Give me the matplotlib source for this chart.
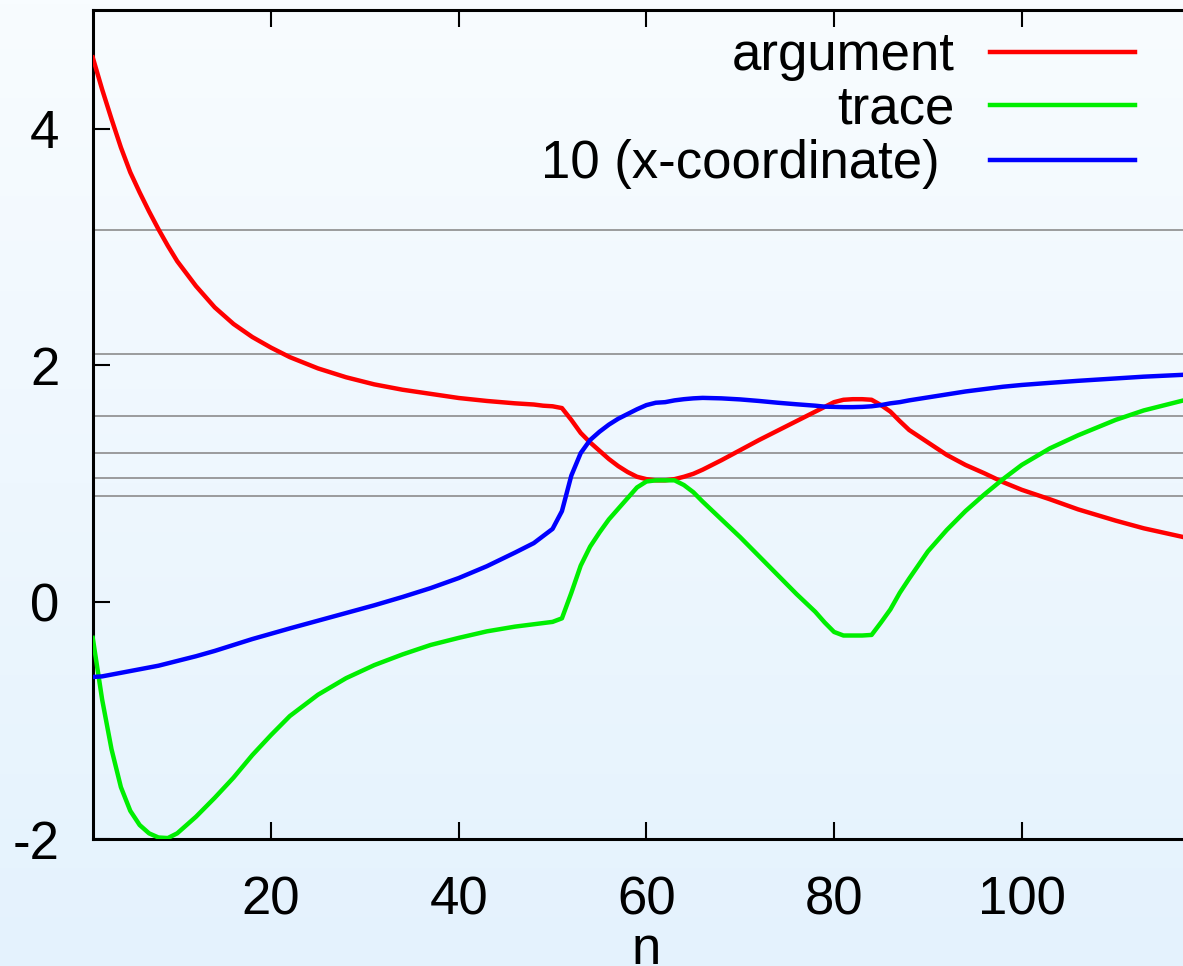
import numpy as np
import matplotlib
matplotlib.use("Agg")
import matplotlib.pyplot as plt

plt.rcParams['font.family'] = ['Liberation Sans', 'DejaVu Sans']
plt.rcParams['axes.unicode_minus'] = False

# sample index n
n = [1, 2, 3, 4, 5, 6, 7, 8, 9, 10, 12, 14, 16, 18, 20, 22, 25, 28, 31, 34,
     37, 40, 43, 46, 48, 49, 50, 51, 52, 53, 54, 55, 56, 57, 58, 59, 60, 61,
     62, 63, 64, 65, 66, 68, 70, 72, 74, 76, 78, 79, 80, 81, 82, 83, 84, 85,
     86, 87, 88, 90, 92, 94, 96, 98, 100, 103, 106, 110, 113, 117]

argument = [4.60, 4.33, 4.08, 3.84, 3.63, 3.46, 3.30, 3.15, 3.01, 2.88,
            2.67, 2.49, 2.35, 2.24, 2.15, 2.07, 1.975, 1.90, 1.84, 1.795,
            1.76, 1.725, 1.70, 1.68, 1.67, 1.66, 1.655, 1.64, 1.54, 1.43,
            1.35, 1.28, 1.21, 1.15, 1.10, 1.06, 1.04, 1.03, 1.03, 1.04,
            1.06, 1.085, 1.12, 1.20, 1.285, 1.37, 1.45, 1.53, 1.61, 1.65,
            1.69, 1.71, 1.715, 1.715, 1.71, 1.665, 1.61, 1.53, 1.455, 1.35,
            1.245, 1.16, 1.09, 1.015, 0.95, 0.87, 0.785, 0.69, 0.625, 0.555]

trace = [-0.30, -0.82, -1.24, -1.56, -1.76, -1.88, -1.95, -1.985, -1.99, -1.95,
         -1.81, -1.65, -1.48, -1.29, -1.12, -0.96, -0.78, -0.64, -0.53, -0.44,
         -0.36, -0.30, -0.245, -0.205, -0.185, -0.175, -0.165, -0.135, 0.08, 0.31,
         0.47, 0.59, 0.70, 0.79, 0.88, 0.97, 1.02, 1.03, 1.03, 1.03,
         0.99, 0.93, 0.85, 0.70, 0.55, 0.39, 0.23, 0.07, -0.08, -0.17,
         -0.25, -0.28, -0.28, -0.28, -0.275, -0.17, -0.06, 0.08, 0.20, 0.43,
         0.61, 0.77, 0.91, 1.04, 1.16, 1.30, 1.41, 1.54, 1.62, 1.70]

xcoord10 = [-0.63, -0.625, -0.61, -0.595, -0.58, -0.565, -0.55, -0.535, -0.515, -0.495,
            -0.455, -0.41, -0.36, -0.31, -0.265, -0.22, -0.155, -0.09, -0.025, 0.045,
            0.12, 0.205, 0.305, 0.42, 0.50, 0.56, 0.62, 0.77, 1.07, 1.26,
            1.37, 1.44, 1.50, 1.55, 1.59, 1.63, 1.665, 1.685, 1.69, 1.705,
            1.715, 1.722, 1.726, 1.722, 1.713, 1.70, 1.685, 1.672, 1.66, 1.652,
            1.65, 1.648, 1.648, 1.65, 1.655, 1.665, 1.68, 1.69, 1.705, 1.73,
            1.755, 1.78, 1.80, 1.82, 1.835, 1.853, 1.87, 1.89, 1.905, 1.92]

# horizontal reference levels 2*pi/k, k = 2..7
levels = [3.1416, 2.0944, 1.5708, 1.2566, 1.0472, 0.8976]

labels = ['argument', 'trace', '10 (x-coordinate)']
colors = ['#ff0000', '#00ee00', '#0000ff']

fig = plt.figure(figsize=(11.83, 9.66), dpi=100)

# light blue gradient background
bg = fig.add_axes([0, 0, 1, 1], zorder=-10)
grad = np.linspace(0, 1, 256).reshape(-1, 1)
top = np.array([248, 252, 255]) / 255.0
bot = np.array([228, 242, 253]) / 255.0
img = top[None, None, :] * (1 - grad[:, :, None]) + bot[None, None, :] * grad[:, :, None]
bg.imshow(img, aspect='auto', extent=[0, 1, 0, 1])
bg.axis('off')

ax = fig.add_axes([0.0784, 0.1312, 0.936, 0.8584])
ax.set_facecolor('none')

for lv in levels:
    ax.axhline(lv, color='#8c8c8c', lw=1.2, zorder=1)

for ys, c in zip([argument, trace, xcoord10], colors):
    ax.plot(n, ys, color=c, lw=3.2, zorder=3, solid_joinstyle='round')

ax.set_xlim(1, 119)
ax.set_ylim(-2, 5)
ax.set_xticks([20, 40, 60, 80, 100])
ax.set_yticks([-2, 0, 2, 4])
ax.tick_params(direction='in', length=12, width=1.5, labelsize=38,
               top=True, right=False, color='black')
ax.tick_params(axis='y', pad=24)
ax.tick_params(axis='x', pad=26)
for s in ['left', 'bottom', 'top']:
    ax.spines[s].set_linewidth(2.2)
ax.spines['right'].set_visible(False)
ax.set_xlabel('n', fontsize=38, labelpad=0)

# legend, gnuplot style: right-aligned text, sample line to the right
ly = [0.9494, 0.8854, 0.8191]
lx = [0.7787, 0.7787, 0.7652]
for lab, c, x, y in zip(labels, colors, lx, ly):
    ax.text(x, y - 0.0217, lab, transform=ax.transAxes, ha='right',
            va='baseline', fontsize=38)
    ax.plot([0.8103, 0.9413], [y, y], transform=ax.transAxes, color=c, lw=3.2)

fig.savefig('out.png', dpi=100)
